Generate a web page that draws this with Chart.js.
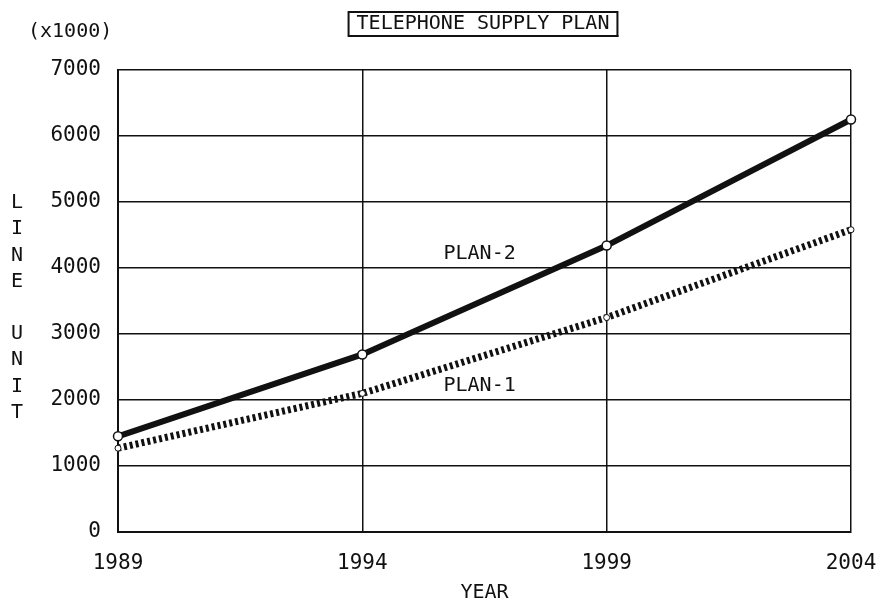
<!DOCTYPE html>
<html>
<head>
<meta charset="utf-8">
<script src="https://cdn.jsdelivr.net/npm/chart.js@4/dist/chart.umd.min.js"></script>
<style>
  html, body { margin: 0; padding: 0; background: #fff; }
</style>
</head>
<body>
<canvas id="supplyChart" width="880" height="605"></canvas>
<script>
// data (x1000 line units)
const years = ['1989', '1994', '1999', '2004'];
const plan1 = [1270, 2100, 3250, 4580];
const plan2 = [1450, 2690, 4340, 6250];

const monoFont = '"DejaVu Sans Mono", "Liberation Mono", monospace';
const ink = '#111';

// series name tags, anchored in data space (category index, value)
const lineTags = [
    { text: 'PLAN-2', x: 1.48, y: 4220 },
    { text: 'PLAN-1', x: 1.48, y: 2220 }
];

const decorations = {
    id: 'decorations',
    afterDraw(chart) {
        const ctx = chart.ctx;
        const xs = chart.scales.x, ys = chart.scales.y;
        ctx.save();
        ctx.fillStyle = ink;
        ctx.strokeStyle = ink;

        // boxed title
        ctx.font = '20px ' + monoFont;
        ctx.textAlign = 'center';
        ctx.textBaseline = 'middle';
        const title = 'TELEPHONE SUPPLY PLAN';
        const tx = 483, ty = 24;
        const w = ctx.measureText(title).width;
        ctx.fillText(title, tx, ty);
        ctx.lineWidth = 2;
        ctx.strokeRect(tx - w / 2 - 8, ty - 12, w + 16, 24);
        ctx.fillRect(tx - w / 2 - 7, ty + 11, w + 16, 2);

        // unit note
        ctx.textAlign = 'left';
        ctx.fillText('(x1000)', 28, 32);

        // stacked y axis title
        ctx.textAlign = 'center';
        ctx.font = '20px ' + monoFont;
        'LINE UNIT'.split('').forEach((ch, i) => {
            ctx.fillText(ch, 17, 203 + i * 26.2);
        });

        // series tags
        ctx.font = '20px ' + monoFont;
        lineTags.forEach(t => {
            ctx.fillText(t.text, xs.getPixelForValue(t.x), ys.getPixelForValue(t.y));
        });
        ctx.restore();
    }
};

const ctx = document.getElementById('supplyChart').getContext('2d');

new Chart(ctx, {
    type: 'line',
    data: {
        labels: years,
        datasets: [
            {
                label: 'PLAN-2',
                data: plan2,
                borderColor: ink,
                borderWidth: 6,
                pointRadius: 4.5,
                pointBackgroundColor: '#fff',
                pointBorderColor: ink,
                pointBorderWidth: 1.5,
                tension: 0
            },
            {
                label: 'PLAN-1',
                data: plan1,
                borderColor: ink,
                borderWidth: 7,
                borderDash: [3, 3],
                pointRadius: 3,
                pointBackgroundColor: '#fff',
                pointBorderColor: ink,
                pointBorderWidth: 1,
                tension: 0
            }
        ]
    },
    options: {
        responsive: false,
        animation: false,
        layout: { padding: { top: 70, right: 29, left: 0, bottom: 0 } },
        plugins: {
            legend: { display: false },
            tooltip: { enabled: false }
        },
        scales: {
            x: {
                offset: false,
                grid: { color: ink, lineWidth: 1.5, drawTicks: false },
                border: { color: ink, width: 2 },
                ticks: {
                    color: ink,
                    font: { family: monoFont, size: 21 },
                    padding: 19,
                    maxRotation: 0,
                    autoSkip: false
                },
                title: {
                    display: true,
                    text: 'YEAR',
                    color: ink,
                    font: { family: monoFont, size: 20 },
                    padding: { top: 4, bottom: 0 }
                },
                afterFit(scale) {
                    scale.height = 73;
                    scale.paddingLeft = 0;
                    scale.paddingRight = 0;
                }
            },
            y: {
                min: 0,
                max: 7000,
                grid: { color: ink, lineWidth: 1.5, drawTicks: false },
                border: { color: ink, width: 2 },
                ticks: {
                    stepSize: 1000,
                    color: ink,
                    font: { family: monoFont, size: 21 },
                    padding: 17,
                    callback: v => String(v)
                },
                afterFit(scale) { scale.width = 118; }
            }
        }
    },
    plugins: [decorations]
});
</script>
</body>
</html>
